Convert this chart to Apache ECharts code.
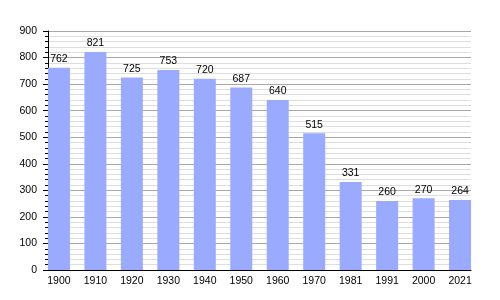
<!DOCTYPE html>
<html><head><meta charset="utf-8">
<script src="https://cdn.jsdelivr.net/npm/echarts@6/dist/echarts.min.js"></script>
<style>html,body{margin:0;padding:0;background:#fff}#c{width:500px;height:300px}</style>
</head><body><div id="c"></div>
<script>
const years = ['1900','1910','1920','1930','1940','1950','1960','1970','1981','1991','2000','2021'];
const population = [762, 821, 725, 753, 720, 687, 640, 515, 331, 260, 270, 264];
const yTicks = [0,100,200,300,400,500,600,700,800,900];

const chart = echarts.init(document.getElementById('c'), null, {renderer:'canvas'});
const font = 'Liberation Sans, Arial, sans-serif';
chart.setOption({
  animation:false,
  grid:{left:48, right:29, top:31, bottom:30},
  xAxis:{
    type:'value', min:-0.3, max:11.3,
    splitLine:{show:false},
    axisLine:{show:true, onZero:false, lineStyle:{color:'#000', width:1}},
    axisTick:{show:false},
    axisLabel:{
      customValues: years.map((_,i)=>i),
      formatter: v => years[Math.round(v)] || '',
      color:'#000', fontSize:10.5, fontFamily:font, margin:6
    }
  },
  yAxis:{
    type:'value', min:yTicks[0], max:yTicks[yTicks.length-1], interval:100,
    axisLine:{show:true, onZero:false, lineStyle:{color:'#000', width:1}},
    axisTick:{show:true, inside:false, length:5, lineStyle:{color:'#000'}},
    minorTick:{show:true, splitNumber:5, length:3, lineStyle:{color:'#000'}},
    splitLine:{show:true, lineStyle:{color:'#a8a8a8', width:1}},
    minorSplitLine:{show:true, lineStyle:{color:'#dedede', width:1}},
    axisLabel:{color:'#000', fontSize:10.5, fontFamily:font, margin:11}
  },
  series:[{
    type:'bar',
    data: population.map((v,i)=>[i,v]),
    barWidth:22,
    itemStyle:{color:'#99aaff'},
    label:{show:true, position:'top', distance:3, color:'#000', fontSize:10.5, fontFamily:font,
      formatter: p => p.value[1]}
  }]
});
</script></body></html>
